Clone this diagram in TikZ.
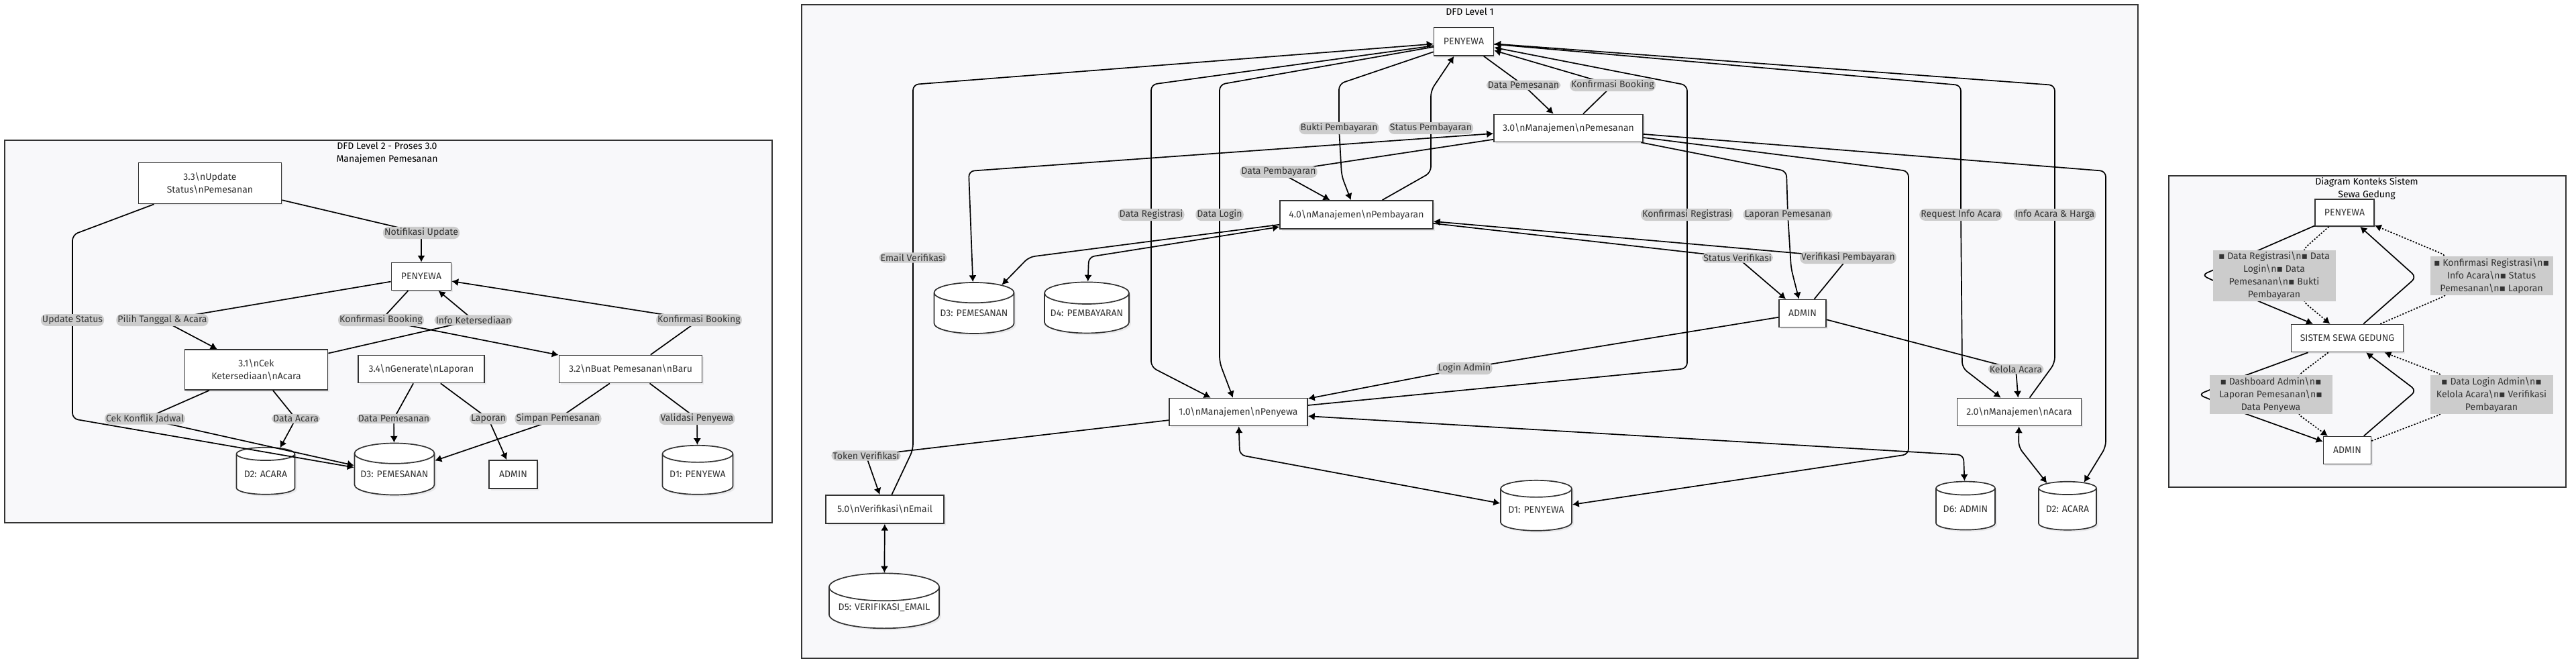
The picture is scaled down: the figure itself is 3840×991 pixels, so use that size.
\documentclass[tikz,border=0pt]{standalone}
\usepackage{fontspec}
\setmainfont{Fira Sans}
\newfontfamily\dejavu{DejaVu Sans}
\usetikzlibrary{shapes.geometric}
\usetikzlibrary{shadows}
\usetikzlibrary{arrows.meta}
\tikzset{>={Latex[length=7pt, width=8pt]}}
\definecolor{ink}{HTML}{333333}
\definecolor{panelbg}{HTML}{F8F8FA}
\definecolor{lblbg}{HTML}{CCCCCC}
\newcommand{\bsn}{\textbackslash n}
\newcommand{\sq}{{\dejavu ▪}}
\tikzset{
  panel/.style={draw=ink, fill=panelbg, line width=1.2pt},
  proc/.style={draw=ink, fill=white, line width=1.2pt, inner sep=0pt, align=center, text=ink,
    drop shadow={opacity=.12, shadow xshift=2pt, shadow yshift=-2pt}},
  store/.style={proc, cylinder, shape border rotate=90, aspect=.3},
  sz/.style 2 args={minimum width=#1cm, minimum height=#2cm},
  flow/.style={->, line width=1.2pt, rounded corners=6pt},
  dual/.style={<->, line width=1.2pt, rounded corners=6pt},
  dots/.style={flow, dash pattern=on 1.6pt off 1.6pt},
  lbl/.style={fill=lblbg, text=ink, inner sep=1.5pt},
  note/.style={fill=lblbg, text=ink, inner sep=2pt, align=center, minimum width=4.575cm},
  ttl/.style={text=black, align=center}
}

\begin{document}
\begin{tikzpicture}[x=0.025cm, y=-0.025cm, font=\fontsize{10}{13.5}\selectfont]
    \useasboundingbox (0,0) rectangle (3840,991);
    \fill[white] (0,0) rectangle (3840,991);
    \draw[panel] (7,209) rectangle (1151,779);
    \draw[panel] (1195,7) rectangle (3187,981);
    \draw[panel] (3233,262) rectangle (3825,726);
    \node[ttl] at (577,228) {DFD Level 2 - Proses 3.0\\Manajemen Pemesanan};
    \node[ttl] at (2191,17) {DFD Level 1};
    \node[ttl] at (3528,281) {Diagram Konteks Sistem\\Sewa Gedung};

    \node[proc, sz={5.325}{1.525}] (l33) at (313,273) {3.3\bsn Update\\Status\bsn Pemesanan};
    \node[proc, sz={2.225}{1.025}] (lpny) at (628,412) {PENYEWA};
    \node[proc, sz={5.325}{1.5}] (l31) at (382,551) {3.1\bsn Cek\\Ketersediaan\bsn Acara};
    \node[proc, sz={4.7}{1.025}] (l34) at (628,550) {3.4\bsn Generate\bsn Laporan};
    \node[proc, sz={5.325}{1.025}] (l32) at (940,550) {3.2\bsn Buat Pemesanan\bsn Baru};
    \node[store, sz={2.175}{1.75}] (ld2) at (396,707) {D2: ACARA};
    \node[store, sz={2.975}{1.925}] (ld3) at (588,707) {D3: PEMESANAN};
    \node[proc, sz={1.8}{1.05}] (ladm) at (765,707) {ADMIN};
    \node[store, sz={2.625}{1.825}] (ld1) at (1040,707) {D1: PENYEWA};

    \draw[flow] (l33) -- (628,347) node[lbl]{Notifikasi Update} -- (lpny);
    \draw[flow] (lpny) -- (242,477) node[lbl]{Pilih Tanggal \& Acara} -- (l31);
    \draw[flow] (l33) -- (108,350) -- (108,477) node[lbl]{Update Status} -- (108,624) -- (ld3);
    \draw[flow] (l31) -- (216,624) node[lbl]{Cek Konflik Jadwal} -- (ld3);
    \draw[flow] (l31) -- (441,624) node[lbl]{Data Acara} -- (ld2);
    \draw[flow] (lpny) -- (568,477) node[lbl]{Konfirmasi Booking} -- (l32);
    \draw[flow] (l31) -- (706,477) node[lbl]{Info Ketersediaan} -- (lpny);
    \draw[flow] (l32) -- (1042,477) node[lbl]{Konfirmasi Booking} -- (lpny);
    \draw[flow] (l34) -- (587,624) node[lbl]{Data Pemesanan} -- (ld3);
    \draw[flow] (l34) -- (728,624) node[lbl]{Laporan} -- (ladm);
    \draw[flow] (l32) -- (832,624) node[lbl]{Simpan Pemesanan} -- (ld3);
    \draw[flow] (l32) -- (1039,624) node[lbl]{Validasi Penyewa} -- (ld1);

    \node[proc, sz={2.225}{1.05}] (mpny) at (2182,62) {PENYEWA};
    \node[proc, sz={5.55}{1.025}] (m30) at (2338,191) {3.0\bsn Manajemen\bsn Pemesanan};
    \node[proc, sz={5.7}{1.05}] (m40) at (2022,320) {4.0\bsn Manajemen\bsn Pembayaran};
    \node[proc, sz={1.75}{1.025}] (madm) at (2687,467) {ADMIN};
    \node[proc, sz={5.15}{1.025}] (m10) at (1846,614) {1.0\bsn Manajemen\bsn Penyewa};
    \node[proc, sz={4.4}{1.05}] (m50) at (1319,759) {5.0\bsn Verifikasi\bsn Email};
    \node[proc, sz={4.625}{1.025}] (m20) at (3010,614) {2.0\bsn Manajemen\bsn Acara};
    \node[store, sz={2.975}{1.9}] (md3) at (1452,467) {D3: PEMESANAN};
    \node[store, sz={3.15}{1.9}] (md4) at (1620,467) {D4: PEMBAYARAN};
    \node[store, sz={4.1}{2.05}] (md5) at (1318,906) {D5: VERIFIKASI\_EMAIL};
    \node[store, sz={2.65}{1.875}] (md1) at (2290,760) {D1: PENYEWA};
    \node[store, sz={2.2}{1.8}] (md6) at (2930,759) {D6: ADMIN};
    \node[store, sz={2.15}{1.8}] (md2) at (3082,759) {D2: ACARA};

    \draw[flow] (m50) -- (1361,670) -- (1361,384) node[lbl]{Email Verifikasi} -- (1361,126) -- (mpny);
    \draw[flow] (mpny) -- (1716,126) -- (1716,320) node[lbl]{Data Registrasi} -- (1716,547) -- (m10);
    \draw[flow] (mpny) -- (1818,126) -- (1818,320) node[lbl]{Data Login} -- (1818,540) -- (m10);
    \draw[flow] (mpny) -- (1996,125) -- (1996,191) node[lbl]{Bukti Pembayaran} -- (2000,262) -- (m40);
    \draw[flow] (m40) -- (2133,257) -- (2133,191) node[lbl]{Status Pembayaran} -- (2133,135) -- (mpny);
    \draw[flow] (mpny) -- (2271,127) node[lbl]{Data Pemesanan} -- (m30);
    \draw[flow] (m30) -- (2404,127) node[lbl]{Konfirmasi Booking} -- (mpny);
    \draw[flow] (m10) -- (2515,549) -- (2515,320) node[lbl]{Konfirmasi Registrasi} -- (2515,127) -- (mpny);
    \draw[flow] (mpny) -- (2923,127) -- (2923,320) node[lbl]{Request Info Acara} -- (2925,548) -- (m20);
    \draw[flow] (m20) -- (3063,541) -- (3063,320) node[lbl]{Info Acara \& Harga} -- (3063,127) -- (mpny);
    \draw[flow] (m30) -- (1906,256) node[lbl]{Data Pembayaran} -- (m40);
    \draw[dual] (m30) -- (1444,255) -- (md3);
    \draw[flow] (m40) -- (1534,383) -- (md3);
    \draw[dual] (m40) -- (1623,383) -- (md4);
    \draw[flow] (m30) -- (3139,255) -- (3139,666) -- (md2);
    \draw[flow] (m30) -- (2845,255) -- (2845,677) -- (md1);
    \draw[flow] (m30) -- (2663,255) -- (2665,320) node[lbl]{Laporan Pemesanan} -- (2670,400) -- (madm);
    \draw[flow] (m40) -- (2590,384) node[lbl]{Status Verifikasi} -- (madm);
    \draw[flow] (madm) -- (2755,384) node[lbl]{Verifikasi Pembayaran} -- (m40);
    \draw[flow] (madm) -- (2183,549) node[lbl]{Login Admin} -- (m10);
    \draw[flow] (madm) -- (3005,550) node[lbl]{Kelola Acara} -- (m20);
    \draw[flow] (m10) -- (1291,679) node[lbl]{Token Verifikasi} -- (m50);
    \draw[dual] (m10) -- (1848,678) -- (md1);
    \draw[dual] (m10) -- (2927,678) -- (md6);
    \draw[dual] (m50) -- (md5);
    \draw[dual] (m20) -- (3009,666) -- (md2);

    \node[proc, sz={2.2}{1.0}] (rpny) at (3495,317) {PENYEWA};
    \node[proc, sz={4.175}{1.025}] (rsys) at (3499,504) {SISTEM SEWA GEDUNG};
    \node[proc, sz={1.775}{1.025}] (radm) at (3499,671) {ADMIN};
    \draw[flow] (rpny) -- (3355,378) -- (3282,410) -- (3355,444) -- (rsys);
    \draw[dots] (rpny) -- (3433,372) -- (3433,449) -- (rsys);
    \draw[flow] (rsys) -- (3602,413) -- (rpny);
    \draw[dots] (rsys) -- (3649,439) -- (3647,381) -- (rpny);
    \draw[flow] (rsys) -- (3340,562) -- (3277,588) -- (3340,614) -- (radm);
    \draw[dots] (rsys) -- (3426,559) -- (3424,616) -- (radm);
    \draw[flow] (radm) -- (3602,582) -- (rsys);
    \draw[dots] (radm) -- (3642,616) -- (3642,559) -- (rsys);
    \node[note, minimum height=1.9cm] (rl1) at (3390,411) {\sq{} Data Registrasi\bsn\sq{} Data\\Login\bsn\sq{} Data\\Pemesanan\bsn\sq{} Bukti\\Pembayaran};
    \node[note, minimum height=1.425cm] (rl2) at (3714,411) {\sq{} Konfirmasi Registrasi\bsn\sq\\Info Acara\bsn\sq{} Status\\Pemesanan\bsn\sq{} Laporan};
    \node[note, minimum height=1.425cm] (rl3) at (3385,588) {\sq{} Dashboard Admin\bsn\sq\\Laporan Pemesanan\bsn\sq\\Data Penyewa};
    \node[note, minimum height=1.425cm] (rl4) at (3714,588) {\sq{} Data Login Admin\bsn\sq\\Kelola Acara\bsn\sq{} Verifikasi\\Pembayaran};
\end{tikzpicture}
\end{document}
